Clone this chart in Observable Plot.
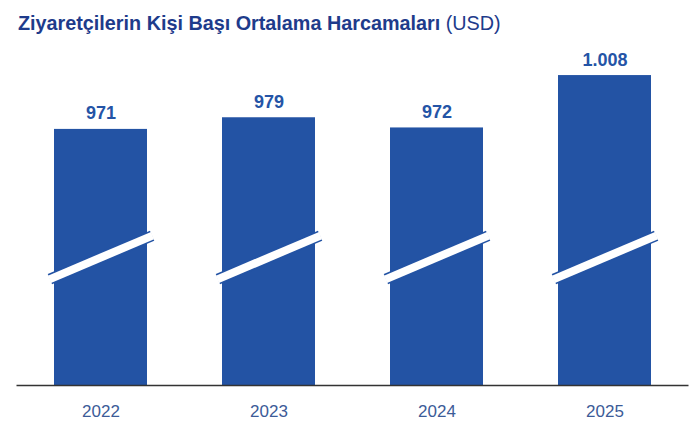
<!DOCTYPE html>
<html>
<head>
<meta charset="utf-8">
<script src="https://cdn.jsdelivr.net/npm/d3@7"></script>
<script src="https://cdn.jsdelivr.net/npm/@observablehq/plot@0.6"></script>
<style>
  html, body { margin: 0; padding: 0; background: #fff; }
  #title {
    box-sizing: border-box;
    height: 44px;
    padding: 3px 0 0 18px;
    line-height: 40px;
    font-family: "Liberation Sans", Arial, Helvetica, sans-serif;
    font-size: 19.8px;
    color: #1e3b8b;
    white-space: nowrap;
  }
  #title b { font-weight: bold; }
  #title span { font-weight: normal; }
</style>
</head>
<body>
<div id="title"><b>Ziyaretçilerin Kişi Başı Ortalama Harcamaları</b> <span>(USD)</span></div>
<div id="chart"></div>
<script>
const years = ["2022", "2023", "2024", "2025"];
const spending = [971, 979, 972, 1008];
const valueLabels = ["971", "979", "972", "1.008"];

const yMin = 795;       // truncated axis start (broken bars)
const yMax = 1020;
const breakAt = 883;    // where the break slash crosses the bars

const barColor = "#2353a4";
const data = years.map((year, i) => ({year, value: spending[i], label: valueLabels[i]}));

const slashShape = {
  draw(context, l) {
    context.moveTo(0, 0);
    context.lineTo(0, -l);
  }
};

const chart = Plot.plot({
  width: 700,
  height: 390,
  marginLeft: 16.5,
  marginRight: 11.5,
  marginTop: 13.6,
  marginBottom: 49,
  style: {fontFamily: "'Liberation Sans', Arial, Helvetica, sans-serif", color: "#3c5b98", background: "#fff"},
  x: {domain: years, paddingInner: 0.446, paddingOuter: 0.223, label: null},
  y: {domain: [yMin, yMax], axis: null},
  marks: [
    Plot.barY(data, {x: "year", y1: yMin, y2: "value", fill: barColor}),
    Plot.vector(years, {x: d => d, y: () => breakAt, length: 111, rotate: 67, anchor: "middle",
      shape: slashShape, stroke: barColor, strokeWidth: 11, strokeLinecap: "butt"}),
    Plot.vector(years, {x: d => d, y: () => breakAt, length: 112, rotate: 67, anchor: "middle",
      shape: slashShape, stroke: "#fff", strokeWidth: 8, strokeLinecap: "butt"}),
    Plot.ruleY([yMin], {stroke: "#333", strokeWidth: 1.3}),
    Plot.text(data, {x: "year", y: "value", text: "label", dy: -10, lineAnchor: "bottom",
      fontWeight: "bold", fontSize: 18, fill: "#2454a6"}),
    Plot.axisX({tickSize: 0, tickPadding: 19, fontSize: 17, label: null, color: "#3c5b98"})
  ]
});
document.getElementById("chart").appendChild(chart);
</script>
</body>
</html>
